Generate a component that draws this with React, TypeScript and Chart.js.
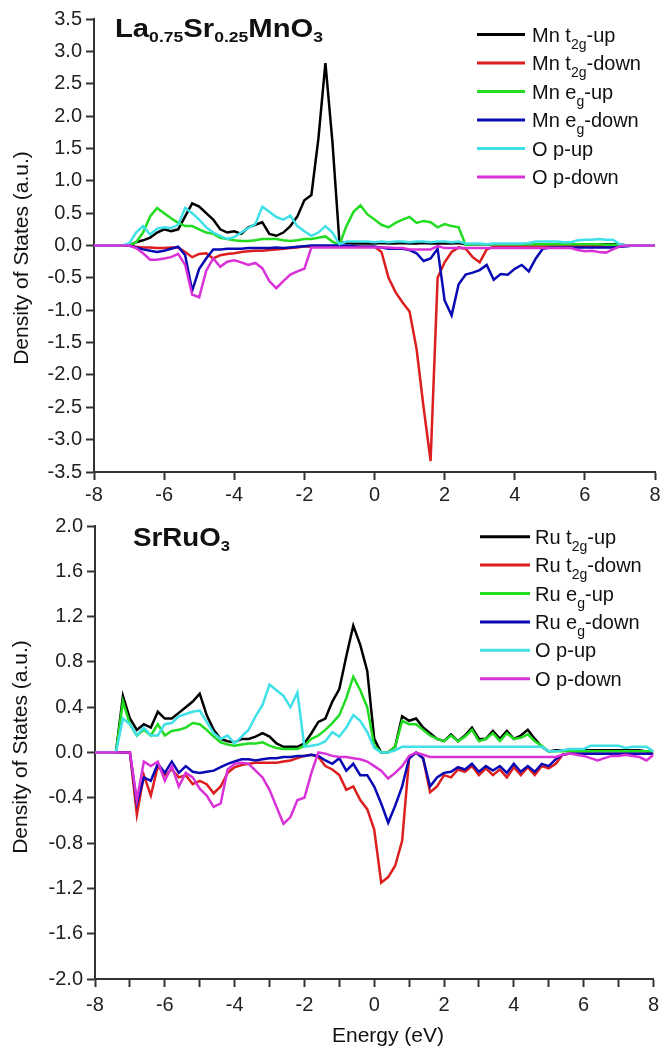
import React, { useEffect, useRef } from 'react';
import { Chart, registerables } from 'chart.js';

Chart.register(...registerables);

// ---------------- DATA ----------------
const ENERGY = [
  -8, -7.8, -7.6, -7.4, -7.2, -7, -6.8, -6.6, -6.4, -6.2,
  -6, -5.8, -5.6, -5.4, -5.2, -5, -4.8, -4.6, -4.4, -4.2,
  -4, -3.8, -3.6, -3.4, -3.2, -3, -2.8, -2.6, -2.4, -2.2,
  -2, -1.8, -1.6, -1.4, -1.2, -1, -0.8, -0.6, -0.4, -0.2,
  0, 0.2, 0.4, 0.6, 0.8, 1, 1.2, 1.4, 1.6, 1.8,
  2, 2.2, 2.4, 2.6, 2.8, 3, 3.2, 3.4, 3.6, 3.8,
  4, 4.2, 4.4, 4.6, 4.8, 5, 5.2, 5.4, 5.6, 5.8,
  6, 6.2, 6.4, 6.6, 6.8, 7, 7.2, 7.4, 7.6, 7.8,
  8,
];

const X_TICKS_MIN = -8;
const X_TICKS_MAX = 8;

// ---- La0.75Sr0.25MnO3 ----
const LSMO_MN_T2G_UP = [
  0, 0, 0, 0, 0, 0, 0.05, 0.08, 0.12, 0.2,
  0.25, 0.22, 0.25, 0.45, 0.65, 0.6, 0.5, 0.4, 0.25, 0.2,
  0.22, 0.18, 0.28, 0.32, 0.36, 0.18, 0.15, 0.2, 0.3, 0.45,
  0.7, 0.78, 1.65, 2.82, 1.6, 0.05, 0.04, 0.03, 0.03, 0.03,
  0.03, 0.04, 0.03, 0.03, 0.04, 0.03, 0.03, 0.04, 0.03, 0.03,
  0.03, 0.03, 0.04, 0.02, 0.02, 0.02, 0.02, 0.02, 0.02, 0.02,
  0.02, 0.02, 0.02, 0.02, 0.02, 0.02, 0.02, 0.02, 0.02, 0.02,
  0.02, 0.02, 0.02, 0.02, 0.02, 0.02, 0, 0, 0, 0,
  0,
];
const LSMO_MN_T2G_DOWN = [
  0, 0, 0, 0, 0, 0, -0.02, -0.03, -0.03, -0.04,
  -0.04, -0.03, -0.03, -0.1, -0.18, -0.13, -0.12, -0.2, -0.15, -0.13,
  -0.12, -0.1, -0.09, -0.08, -0.08, -0.07, -0.06, -0.05, -0.04, -0.03,
  -0.01, -0.02, -0.02, -0.02, -0.02, -0.02, -0.02, -0.02, -0.02, -0.02,
  -0.02, -0.1, -0.5, -0.72, -0.88, -1.02, -1.6, -2.5, -3.33, -0.5,
  -0.26, -0.1, -0.03, -0.05, -0.18, -0.26, -0.06, -0.02, -0.02, -0.02,
  -0.02, -0.02, -0.02, -0.02, -0.02, -0.01, -0.01, -0.01, -0.01, -0.01,
  -0.01, -0.01, -0.01, -0.01, -0.01, -0.01, 0, 0, 0, 0,
  0,
];
const LSMO_MN_EG_UP = [
  0, 0, 0, 0, 0, 0, 0.05, 0.2, 0.45, 0.58,
  0.5, 0.42, 0.35, 0.3, 0.3, 0.25, 0.2, 0.18, 0.12, 0.1,
  0.08, 0.07, 0.07, 0.08, 0.1, 0.1, 0.1, 0.08, 0.07, 0.08,
  0.1, 0.1, 0.12, 0.14, 0.06, 0.01, 0.3, 0.52, 0.62, 0.48,
  0.4, 0.32, 0.28, 0.35, 0.4, 0.44, 0.35, 0.38, 0.36, 0.28,
  0.33, 0.3, 0.28, 0.01, 0.02, 0.02, 0.02, 0.02, 0.02, 0.02,
  0.02, 0.02, 0.02, 0.02, 0.02, 0.02, 0.02, 0.02, 0.02, 0.02,
  0.02, 0.02, 0.02, 0.01, 0.01, 0.01, 0, 0, 0, 0,
  0,
];
const LSMO_MN_EG_DOWN = [
  0, 0, 0, 0, 0, 0, -0.03, -0.06, -0.08, -0.1,
  -0.08, -0.05, -0.02, -0.15, -0.7, -0.36, -0.2, -0.06, -0.06, -0.05,
  -0.05, -0.05, -0.04, -0.04, -0.04, -0.04, -0.03, -0.04, -0.03, -0.02,
  -0.01, 0, 0, 0, 0, 0, 0, -0.01, -0.02, -0.02,
  -0.02, -0.03, -0.05, -0.05, -0.05, -0.07, -0.12, -0.24, -0.2, -0.05,
  -0.85, -1.08, -0.6, -0.45, -0.42, -0.38, -0.3, -0.53, -0.44, -0.45,
  -0.36, -0.3, -0.4, -0.2, -0.05, -0.03, -0.03, -0.03, -0.03, -0.03,
  -0.03, -0.03, -0.03, -0.03, -0.03, -0.02, -0.01, 0, 0, 0,
  0,
];
const LSMO_O_P_UP = [
  0, 0, 0, 0, 0, 0.03, 0.2, 0.3, 0.17, 0.26,
  0.28, 0.27, 0.32, 0.58, 0.5, 0.4, 0.28, 0.2, 0.15, 0.1,
  0.13, 0.2, 0.27, 0.33, 0.6, 0.52, 0.44, 0.4, 0.46, 0.3,
  0.22, 0.15, 0.2, 0.3, 0.2, 0.02, 0.06, 0.06, 0.06, 0.06,
  0.05, 0.06, 0.05, 0.06, 0.06, 0.05, 0.06, 0.06, 0.05, 0.06,
  0.06, 0.05, 0.06, 0.03, 0.03, 0.03, 0.02, 0.03, 0.03, 0.03,
  0.03, 0.03, 0.04, 0.06, 0.06, 0.06, 0.06, 0.05, 0.05, 0.08,
  0.09, 0.09, 0.1, 0.09, 0.09, 0.02, 0, 0, 0, 0,
  0,
];
const LSMO_O_P_DOWN = [
  0, 0, 0, 0, 0, 0, -0.04, -0.12, -0.22, -0.22,
  -0.2, -0.18, -0.13, -0.3, -0.76, -0.8, -0.39, -0.2, -0.33, -0.25,
  -0.23, -0.26, -0.3, -0.27, -0.35, -0.55, -0.66, -0.55, -0.45, -0.4,
  -0.36, -0.03, -0.03, -0.03, -0.03, -0.03, -0.03, -0.03, -0.03, -0.03,
  -0.03, -0.03, -0.03, -0.04, -0.04, -0.06, -0.06, -0.06, -0.06, -0.01,
  -0.04, -0.04, -0.04, -0.04, -0.04, -0.04, -0.04, -0.04, -0.04, -0.04,
  -0.04, -0.04, -0.04, -0.04, -0.04, -0.04, -0.04, -0.04, -0.04, -0.07,
  -0.09, -0.08, -0.1, -0.11, -0.06, -0.01, 0, 0, 0, 0,
  0,
];

// ---- SrRuO3 ----
const SRO_RU_T2G_UP = [
  0, 0, 0, 0, 0.5, 0.3, 0.2, 0.25, 0.22, 0.36,
  0.3, 0.3, 0.35, 0.4, 0.45, 0.52, 0.33, 0.2, 0.12, 0.1,
  0.09, 0.12, 0.12, 0.14, 0.17, 0.14, 0.08, 0.05, 0.05, 0.05,
  0.08, 0.17, 0.27, 0.3, 0.45, 0.56, 0.85, 1.12, 0.95, 0.72,
  0.12, 0, 0, 0.05, 0.32, 0.28, 0.3, 0.22, 0.17, 0.12,
  0.1, 0.16, 0.1, 0.15, 0.22, 0.12, 0.12, 0.19, 0.12, 0.19,
  0.12, 0.15, 0.2, 0.12, 0.05, 0.01, 0.02, 0.02, 0.02, 0.02,
  0.02, 0.02, 0.02, 0.02, 0.02, 0.02, 0.02, 0.02, 0.02, 0.01,
  0.01,
];
const SRO_RU_T2G_DOWN = [
  0, 0, 0, 0, 0, 0, -0.55, -0.2, -0.38, -0.12,
  -0.2, -0.15, -0.22, -0.2, -0.28, -0.25, -0.28, -0.36, -0.3, -0.18,
  -0.13, -0.11, -0.1, -0.09, -0.09, -0.09, -0.09, -0.08, -0.07, -0.05,
  -0.03, -0.02, -0.04, -0.12, -0.15, -0.2, -0.33, -0.3, -0.42, -0.5,
  -0.68, -1.15, -1.1, -1.0, -0.78, -0.05, 0, -0.05, -0.35, -0.3,
  -0.2, -0.22, -0.15, -0.17, -0.12, -0.2, -0.14, -0.2, -0.15, -0.22,
  -0.13, -0.2, -0.13, -0.2, -0.12, -0.14, -0.1, -0.02, -0.01, -0.01,
  -0.01, -0.01, -0.01, -0.01, -0.01, -0.01, -0.01, -0.01, -0.01, -0.01,
  -0.01,
];
const SRO_RU_EG_UP = [
  0, 0, 0, 0, 0.45, 0.25, 0.15, 0.2, 0.15, 0.25,
  0.15, 0.19, 0.2, 0.22, 0.26, 0.25, 0.2, 0.14, 0.09, 0.07,
  0.06, 0.07, 0.08, 0.08, 0.09, 0.06, 0.04, 0.03, 0.03, 0.03,
  0.06, 0.12, 0.15, 0.2, 0.26, 0.33, 0.48, 0.67, 0.55, 0.4,
  0.06, 0, 0, 0.05, 0.28, 0.25, 0.25, 0.2, 0.15, 0.12,
  0.1, 0.15, 0.1, 0.14, 0.2, 0.1, 0.12, 0.17, 0.1, 0.17,
  0.12, 0.13, 0.16, 0.1, 0.06, 0.01, 0.01, 0.01, 0.01, 0.01,
  0.01, 0.01, 0.01, 0.01, 0.01, 0.01, 0.01, 0.01, 0.01, 0.01,
  0.01,
];
const SRO_RU_EG_DOWN = [
  0, 0, 0, 0, 0, 0, -0.45, -0.22, -0.25, -0.1,
  -0.18, -0.08, -0.18, -0.12, -0.17, -0.18, -0.17, -0.16, -0.13, -0.1,
  -0.08, -0.06, -0.06, -0.07, -0.06, -0.05, -0.05, -0.04, -0.04, -0.03,
  -0.03, -0.02, -0.03, -0.07, -0.1, -0.05, -0.16, -0.1, -0.2, -0.2,
  -0.3, -0.45, -0.62, -0.47, -0.3, -0.05, 0, -0.05, -0.3, -0.22,
  -0.18, -0.17, -0.13, -0.15, -0.1, -0.17, -0.12, -0.16, -0.12, -0.18,
  -0.1, -0.17, -0.12, -0.17, -0.1, -0.12, -0.06, -0.02, -0.01, -0.01,
  -0.01, -0.01, -0.01, -0.01, -0.01, -0.01, -0.01, -0.01, -0.01, -0.01,
  -0.01,
];
const SRO_O_P_UP = [
  0, 0, 0, 0, 0.3, 0.25, 0.15, 0.22, 0.15, 0.15,
  0.25, 0.26, 0.32, 0.34, 0.36, 0.37, 0.27, 0.17, 0.12, 0.15,
  0.08, 0.14, 0.2, 0.32, 0.42, 0.6, 0.55, 0.5, 0.4, 0.53,
  0.05, 0.06, 0.07, 0.1, 0.18, 0.14, 0.22, 0.33, 0.28, 0.18,
  0.04, 0, 0, 0.02, 0.05, 0.05, 0.05, 0.05, 0.05, 0.05,
  0.05, 0.05, 0.05, 0.05, 0.05, 0.05, 0.05, 0.05, 0.05, 0.05,
  0.05, 0.05, 0.05, 0.05, 0.05, 0.01, 0.01, 0.02, 0.03, 0.03,
  0.03, 0.06, 0.06, 0.06, 0.06, 0.06, 0.04, 0.05, 0.05, 0.05,
  0.01,
];
const SRO_O_P_DOWN = [
  0, 0, 0, 0, 0, 0, -0.42, -0.08, -0.12, -0.08,
  -0.25, -0.12, -0.3, -0.18, -0.22, -0.32, -0.38, -0.48, -0.45, -0.15,
  -0.1, -0.09, -0.1, -0.16, -0.22, -0.33, -0.48, -0.63, -0.57, -0.42,
  -0.4, -0.18, 0, -0.01, -0.03, -0.04, -0.04, -0.05, -0.06, -0.08,
  -0.12, -0.16, -0.23, -0.18, -0.12, -0.03, 0, -0.02, -0.04, -0.04,
  -0.04, -0.04, -0.04, -0.04, -0.04, -0.04, -0.04, -0.04, -0.04, -0.04,
  -0.04, -0.04, -0.04, -0.04, -0.04, -0.04, -0.04, -0.02, -0.01, -0.02,
  -0.03, -0.05, -0.07, -0.05, -0.03, -0.03, -0.02, -0.03, -0.04, -0.07,
  -0.02,
];

const COLORS = ['#000000', '#dc1e1e', '#22dc22', '#0a0ab4', '#40e0e8', '#d932d9'];

type Part = { t: string; sub?: boolean };

const LSMO_TITLE: Part[] = [
  { t: 'La' }, { t: '0.75', sub: true }, { t: 'Sr' }, { t: '0.25', sub: true }, { t: 'MnO' }, { t: '3', sub: true },
];
const SRO_TITLE: Part[] = [{ t: 'SrRuO' }, { t: '3', sub: true }];

const LSMO_LABELS: Part[][] = [
  [{ t: 'Mn t' }, { t: '2g', sub: true }, { t: '-up' }],
  [{ t: 'Mn t' }, { t: '2g', sub: true }, { t: '-down' }],
  [{ t: 'Mn e' }, { t: 'g', sub: true }, { t: '-up' }],
  [{ t: 'Mn e' }, { t: 'g', sub: true }, { t: '-down' }],
  [{ t: 'O p-up' }],
  [{ t: 'O p-down' }],
];
const SRO_LABELS: Part[][] = [
  [{ t: 'Ru t' }, { t: '2g', sub: true }, { t: '-up' }],
  [{ t: 'Ru t' }, { t: '2g', sub: true }, { t: '-down' }],
  [{ t: 'Ru e' }, { t: 'g', sub: true }, { t: '-up' }],
  [{ t: 'Ru e' }, { t: 'g', sub: true }, { t: '-down' }],
  [{ t: 'O p-up' }],
  [{ t: 'O p-down' }],
];

const LSMO_SERIES = [LSMO_MN_T2G_UP, LSMO_MN_T2G_DOWN, LSMO_MN_EG_UP, LSMO_MN_EG_DOWN, LSMO_O_P_UP, LSMO_O_P_DOWN];
const SRO_SERIES = [SRO_RU_T2G_UP, SRO_RU_T2G_DOWN, SRO_RU_EG_UP, SRO_RU_EG_DOWN, SRO_O_P_UP, SRO_O_P_DOWN];

const Y_TITLE = 'Density of States (a.u.)';
const X_TITLE = 'Energy (eV)';

// ---------------- DRAWING HELPERS ----------------
const FONT = '"Liberation Sans", Arial, Helvetica, sans-serif';

function drawRich(
  ctx: CanvasRenderingContext2D,
  parts: Part[],
  x: number,
  y: number,
  size: number,
  subSize: number,
  subDy: number,
  weight: string,
  targetWidth?: number
) {
  ctx.save();
  let w = 0;
  for (const p of parts) {
    ctx.font = `${weight} ${p.sub ? subSize : size}px ${FONT}`;
    w += ctx.measureText(p.t).width;
  }
  const sx = targetWidth ? targetWidth / w : 1;
  ctx.translate(x, y);
  ctx.scale(sx, 1);
  ctx.textAlign = 'left';
  ctx.textBaseline = 'alphabetic';
  let cx = 0;
  for (const p of parts) {
    ctx.font = `${weight} ${p.sub ? subSize : size}px ${FONT}`;
    ctx.fillText(p.t, cx, p.sub ? subDy : 0);
    cx += ctx.measureText(p.t).width;
  }
  ctx.restore();
}

type Decor = {
  title: Part[];
  titleX: number;
  titleY: number;
  titleW: number;
  labels: Part[][];
  legLineX1: number;
  legLineX2: number;
  legTextX: number;
  legY0: number;
  legDy: number;
  yTitleX: number;
  yTitleCY: number;
  xTitle?: { x: number; y: number };
};

function makeDecor(d: Decor) {
  return {
    id: 'decor',
    afterDraw(chart: any) {
      const ctx: CanvasRenderingContext2D = chart.ctx;
      ctx.save();
      ctx.fillStyle = '#111';
      drawRich(ctx, d.title, d.titleX, d.titleY, 25, 15, 5, 'bold', d.titleW);
      d.labels.forEach((parts, i) => {
        const cy = d.legY0 + i * d.legDy;
        ctx.strokeStyle = chart.data.datasets[i].borderColor;
        ctx.lineWidth = 3;
        ctx.beginPath();
        ctx.moveTo(d.legLineX1, cy);
        ctx.lineTo(d.legLineX2, cy);
        ctx.stroke();
        ctx.fillStyle = '#111';
        drawRich(ctx, parts, d.legTextX, cy + 7, 20, 14, 7, 'normal');
      });
      ctx.save();
      ctx.translate(d.yTitleX, d.yTitleCY);
      ctx.rotate(-Math.PI / 2);
      ctx.font = `normal 21px ${FONT}`;
      ctx.textAlign = 'center';
      ctx.textBaseline = 'alphabetic';
      ctx.fillStyle = '#111';
      ctx.fillText(Y_TITLE, 0, 0);
      ctx.restore();
      if (d.xTitle) {
        ctx.font = `normal 21px ${FONT}`;
        ctx.textAlign = 'center';
        ctx.textBaseline = 'alphabetic';
        ctx.fillText(X_TITLE, d.xTitle.x, d.xTitle.y);
      }
      ctx.restore();
    },
  };
}

type PanelCfg = {
  series: number[][];
  labels: Part[][];
  yMin: number;
  yMax: number;
  yStep: number;
  xStep: number;
  padTop: number;
  padRight: number;
  yWidth: number;
  xHeight: number;
  tickPadX: number;
  decor: Decor;
};

function buildChart(canvas: HTMLCanvasElement, cfg: PanelCfg) {
  const axisColor = '#333';
  const datasets = cfg.series.map((arr, i) => ({
    label: cfg.labels[i].map((p) => p.t).join(''),
    data: ENERGY.map((x, k) => ({ x, y: arr[k] })),
    borderColor: COLORS[i],
    backgroundColor: COLORS[i],
    borderWidth: 2.5,
    pointRadius: 0,
    tension: 0,
    fill: false,
    order: cfg.series.length - i,
  }));
  return new Chart(canvas, {
    type: 'line',
    data: { datasets },
    plugins: [makeDecor(cfg.decor)],
    options: {
      animation: false,
      responsive: false,
      maintainAspectRatio: false,
      devicePixelRatio: 1,
      layout: { padding: { top: cfg.padTop, right: cfg.padRight, left: 0, bottom: 0 } },
      plugins: { legend: { display: false }, tooltip: { enabled: false }, title: { display: false } },
      scales: {
        x: {
          type: 'linear',
          min: X_TICKS_MIN,
          max: X_TICKS_MAX,
          afterFit: (s: any) => {
            s.height = cfg.xHeight;
          },
          border: { display: true, color: axisColor, width: 2 },
          grid: { drawOnChartArea: false, drawTicks: true, tickLength: 8, tickWidth: 2, color: axisColor },
          ticks: {
            stepSize: cfg.xStep,
            autoSkip: false,
            maxRotation: 0,
            padding: cfg.tickPadX,
            color: '#222',
            font: { family: FONT, size: 20 },
            callback: (v: any) => {
              const n = Number(v);
              return Math.round(n) % 2 === 0 ? String(Math.round(n)) : '';
            },
          },
        },
        y: {
          type: 'linear',
          min: cfg.yMin,
          max: cfg.yMax,
          afterFit: (s: any) => {
            s.width = cfg.yWidth;
          },
          border: { display: true, color: axisColor, width: 2 },
          grid: { drawOnChartArea: false, drawTicks: true, tickLength: 8, tickWidth: 2, color: axisColor },
          ticks: {
            stepSize: cfg.yStep,
            autoSkip: false,
            padding: 4,
            color: '#222',
            font: { family: FONT, size: 20 },
            callback: (v: any) => {
              const n = Number(v);
              return (Math.abs(n) < 1e-9 ? 0 : n).toFixed(1);
            },
          },
        },
      },
    },
  } as any);
}

const TOP_H = 505;
const BOT_H = 546;
const W = 665;

export default function App() {
  const topRef = useRef<HTMLCanvasElement>(null);
  const botRef = useRef<HTMLCanvasElement>(null);

  useEffect(() => {
    const c1 = buildChart(topRef.current!, {
      series: LSMO_SERIES,
      labels: LSMO_LABELS,
      yMin: -3.5,
      yMax: 3.5,
      yStep: 0.5,
      xStep: 2,
      padTop: 19,
      padRight: 10,
      yWidth: 94,
      xHeight: TOP_H - 472,
      tickPadX: 3,
      decor: {
        title: LSMO_TITLE,
        titleX: 115,
        titleY: 37,
        titleW: 208,
        labels: LSMO_LABELS,
        legLineX1: 477,
        legLineX2: 525,
        legTextX: 532,
        legY0: 34.5,
        legDy: 28.5,
        yTitleX: 28,
        yTitleCY: 258,
      },
    });
    const c2 = buildChart(botRef.current!, {
      series: SRO_SERIES,
      labels: SRO_LABELS,
      yMin: -2,
      yMax: 2,
      yStep: 0.4,
      xStep: 1,
      padTop: 21,
      padRight: 8,
      yWidth: 95,
      xHeight: BOT_H - 474,
      tickPadX: 6,
      decor: {
        title: SRO_TITLE,
        titleX: 133,
        titleY: 41,
        titleW: 97,
        labels: SRO_LABELS,
        legLineX1: 480,
        legLineX2: 530,
        legTextX: 535,
        legY0: 31.7,
        legDy: 28.4,
        yTitleX: 27,
        yTitleCY: 242,
        xTitle: { x: 388, y: 537 },
      },
    });
    return () => {
      c1.destroy();
      c2.destroy();
    };
  }, []);

  return (
    <div style={{ position: 'absolute', left: 0, top: 0, width: W, height: TOP_H + BOT_H, background: '#fff' }}>
      <canvas
        ref={topRef}
        width={W}
        height={TOP_H}
        style={{ position: 'absolute', left: 0, top: 0, width: W, height: TOP_H, display: 'block' }}
      />
      <canvas
        ref={botRef}
        width={W}
        height={BOT_H}
        style={{ position: 'absolute', left: 0, top: TOP_H, width: W, height: BOT_H, display: 'block' }}
      />
    </div>
  );
}
